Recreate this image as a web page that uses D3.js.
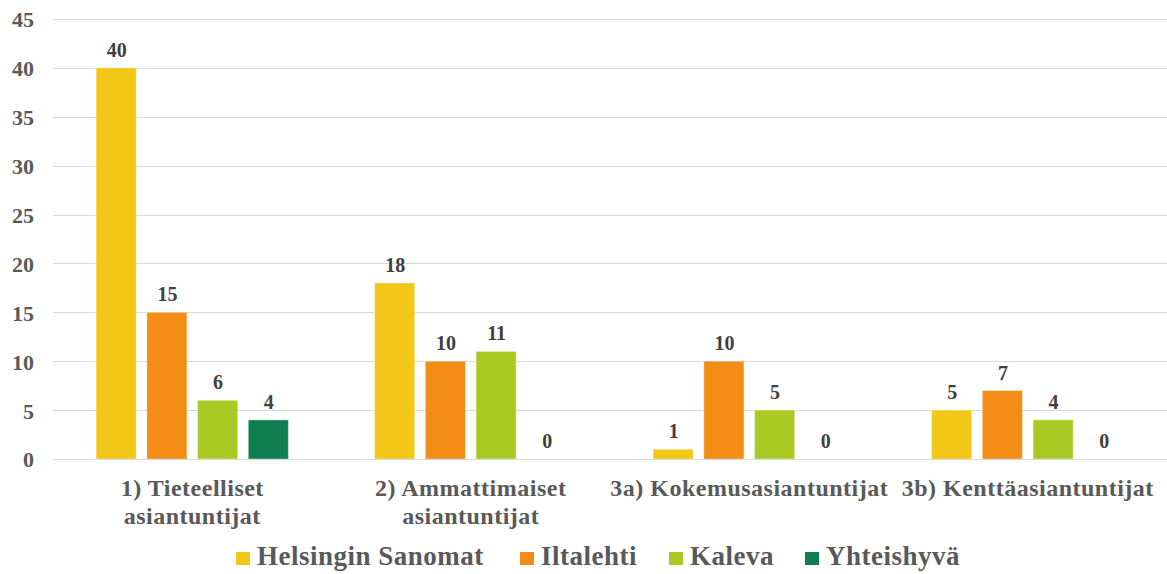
<!DOCTYPE html>
<html><head><meta charset="utf-8">
<script src="https://cdn.jsdelivr.net/npm/d3@7"></script>
<style>html,body{margin:0;padding:0;background:#fff;}svg{display:block;}</style>
</head><body>
<svg id="c" width="1167" height="574"></svg>
<script>
const categories = ["1) Tieteelliset\nasiantuntijat", "2) Ammattimaiset\nasiantuntijat", "3a) Kokemusasiantuntijat", "3b) Kenttäasiantuntijat"];
const seriesNames = ["Helsingin Sanomat", "Iltalehti", "Kaleva", "Yhteishyvä"];
const helsinginSanomat = [40, 18, 1, 5];
const iltalehti = [15, 10, 10, 7];
const kaleva = [6, 11, 5, 4];
const yhteishyva = [4, 0, 0, 0];
const seriesColors = ["#F2C718", "#F38D15", "#ABC923", "#0F7F52"];
const yTicks = [0, 5, 10, 15, 20, 25, 30, 35, 40, 45];

const values = [helsinginSanomat, iltalehti, kaleva, yhteishyva];
const FONT = "'Liberation Serif', 'Times New Roman', serif";
const TXT = "#595959";
const svg = d3.select("#c");

const x0 = d3.scaleBand().domain(categories).range([53, 1167]);
const x1 = d3.scaleBand().domain(seriesNames).range([0, x0.bandwidth()]).paddingInner(0.21).paddingOuter(0.85);
const y = d3.scaleLinear().domain([0, 45]).range([459, 19]);

// gridlines
svg.append("g").selectAll("line").data(yTicks).join("line")
  .attr("x1", 53).attr("x2", 1167)
  .attr("y1", d => Math.round(y(d)) + 0.5).attr("y2", d => Math.round(y(d)) + 0.5)
  .attr("stroke", "#d9d9d9").attr("stroke-width", 1);

// y axis labels
const yAxis = svg.append("g").attr("transform", "translate(34,0)")
  .call(d3.axisLeft(y).tickValues(yTicks).tickSize(0).tickPadding(0));
yAxis.select(".domain").remove();
yAxis.selectAll("text").attr("font-family", FONT).attr("font-size", 22).attr("font-weight", "bold")
  .attr("fill", TXT).attr("dy", "0.36em");

// bars
const groups = svg.append("g").selectAll("g").data(categories).join("g")
  .attr("transform", d => `translate(${x0(d)},0)`);
groups.each(function(cat, ci) {
  const g = d3.select(this);
  seriesNames.forEach((s, si) => {
    const v = values[si][ci];
    if (v > 0) {
      g.append("rect").attr("x", x1(s)).attr("width", x1.bandwidth())
        .attr("y", y(v)).attr("height", y(0) - y(v))
        .attr("fill", seriesColors[si]).attr("stroke", "#fff").attr("stroke-opacity", 0.35).attr("stroke-width", 1);
    }
    g.append("text").attr("x", x1(s) + x1.bandwidth() / 2 + 0.5).attr("y", y(v) - 11)
      .attr("text-anchor", "middle").attr("font-family", FONT).attr("font-size", 20)
      .attr("font-weight", "bold").attr("fill", "#404040").text(v);
  });
});

// x axis category labels
const xAxis = svg.append("g").attr("transform", "translate(0,459)")
  .call(d3.axisBottom(x0).tickSize(0).tickPadding(0).tickFormat(""));
xAxis.select(".domain").attr("stroke", "#d9d9d9");
xAxis.selectAll(".tick").each(function(d) {
  const t = d3.select(this).append("text").attr("text-anchor", "middle")
    .attr("font-family", FONT).attr("font-size", 24).attr("font-weight", "bold")
    .attr("letter-spacing", 0.5).attr("fill", TXT);
  d.split("\n").forEach((line, i) => {
    t.append("tspan").attr("x", 0).attr("y", 37 + i * 28).text(line);
  });
});

// legend
const legendX = [236, 520, 669, 805];
const lg = svg.append("g").selectAll("g").data(seriesNames).join("g")
  .attr("transform", (d, i) => `translate(${legendX[i]},552)`);
lg.append("rect").attr("width", 14).attr("height", 13).attr("fill", (d, i) => seriesColors[i]);
lg.append("text").attr("x", 21).attr("y", 13).attr("font-family", FONT).attr("font-size", 27)
  .attr("font-weight", "bold").attr("letter-spacing", 0.5).attr("fill", TXT).text(d => d);
</script>
</body></html>
